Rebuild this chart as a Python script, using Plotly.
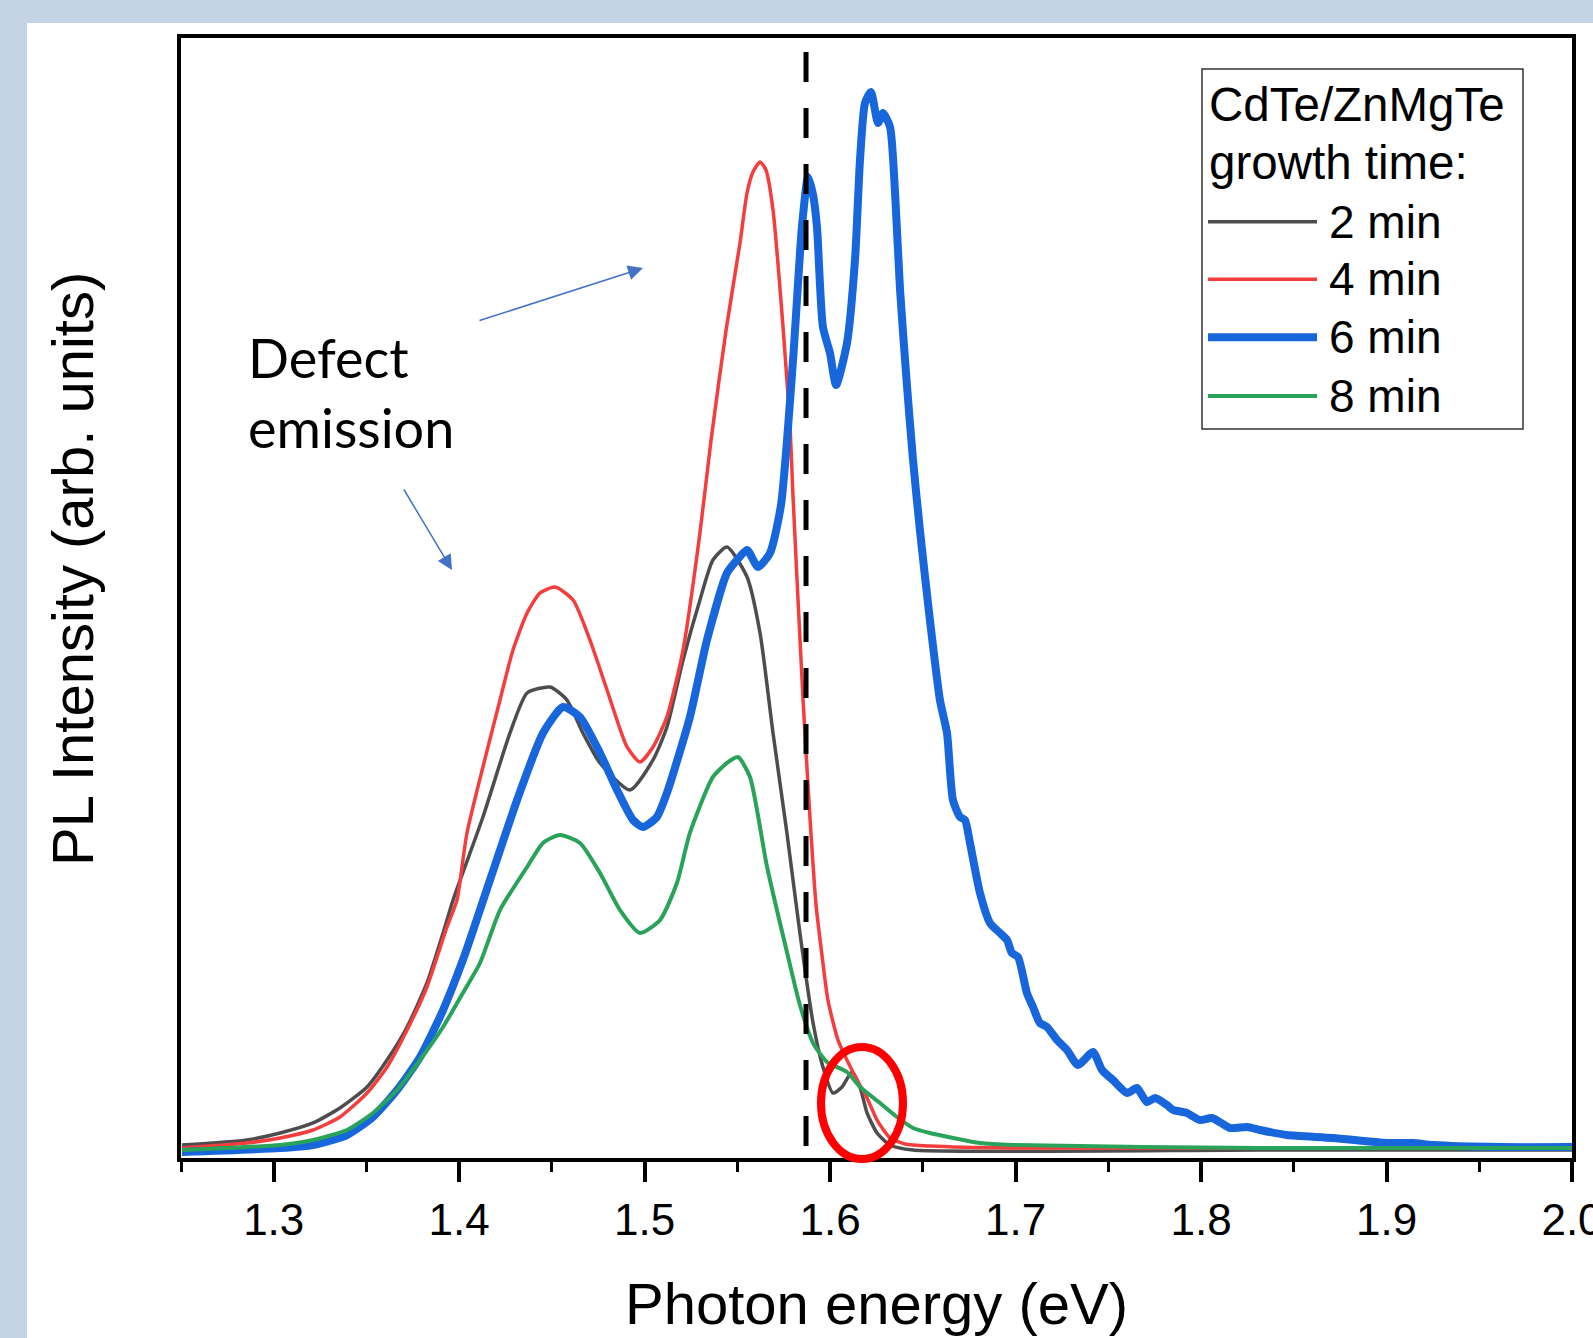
import plotly.graph_objects as go

# ---------------- data ----------------
energy_2min = [1.2505, 1.2856, 1.3034, 1.3212, 1.3357, 1.3503, 1.3611, 1.3719, 1.3826, 1.3913,
               1.3967, 1.4128, 1.4274, 1.4366, 1.4490, 1.4581, 1.4667, 1.4759, 1.4921, 1.5045,
               1.5120, 1.5207, 1.5298, 1.5368, 1.5444, 1.5552, 1.5622, 1.5692, 1.5767, 1.5837,
               1.5908, 1.5961, 1.6015, 1.6064, 1.6118, 1.6161, 1.6199, 1.6253, 1.6323, 1.6447,
               1.8318, 2.0]
intensity_2min = [1.16, 1.61, 2.23, 3.13, 4.46, 6.34, 8.75, 11.70, 15.63, 20.09,
                  23.04, 30.45, 37.95, 41.52, 42.05, 40.89, 37.95, 35.27, 32.86, 35.54,
                  38.48, 44.46, 49.82, 53.39, 54.55, 51.88, 46.88, 37.95, 29.02, 20.09,
                  12.05, 8.13, 5.80, 6.34, 7.68, 6.34, 4.02, 2.23, 1.16, 0.71,
                  0.71, 0.71]

energy_4min = [1.2505, 1.2856, 1.3034, 1.3212, 1.3357, 1.3503, 1.3611, 1.3719, 1.3826, 1.3934,
               1.3988, 1.4042, 1.4220, 1.4290, 1.4366, 1.4436, 1.4517, 1.4614, 1.4705, 1.4797,
               1.4905, 1.4975, 1.5045, 1.5120, 1.5207, 1.5298, 1.5358, 1.5439, 1.5514, 1.5552,
               1.5584, 1.5622, 1.5654, 1.5692, 1.5746, 1.5784, 1.5800, 1.5854, 1.5892, 1.5924,
               1.5956, 1.5988, 1.6042, 1.6096, 1.6145, 1.6199, 1.6253, 1.6323, 1.6404, 1.6538,
               1.6986, 2.0]
intensity_4min = [0.89, 1.34, 1.79, 2.50, 3.66, 5.80, 8.13, 11.43, 15.27, 20.63,
                  23.04, 29.02, 40.89, 45.36, 48.66, 50.45, 50.98, 49.82, 46.25, 41.79,
                  36.70, 35.36, 36.70, 39.38, 45.36, 55.80, 64.11, 73.93, 81.70, 86.16,
                  88.04, 88.93, 88.21, 84.64, 74.20, 65.27, 59.02, 40.89, 30.18, 22.59,
                  18.13, 14.11, 10.54, 8.57, 6.96, 5.36, 3.39, 1.79, 1.25, 1.07,
                  0.89, 0.89]

energy_6min = [1.2505, 1.3034, 1.3212, 1.3395, 1.3535, 1.3665, 1.3789, 1.3913, 1.4020, 1.4112,
               1.4312, 1.4452, 1.4560, 1.4651, 1.4759, 1.4851, 1.4937, 1.4991, 1.5066, 1.5120,
               1.5244, 1.5336, 1.5444, 1.5498, 1.5552, 1.5611, 1.5676, 1.5735, 1.5800, 1.5848,
               1.5881, 1.5908, 1.5929, 1.5961, 1.5999, 1.6032, 1.6091, 1.6134, 1.6161, 1.6188,
               1.6220, 1.6258, 1.6285, 1.6323, 1.6350, 1.6377, 1.6414, 1.6447, 1.6484, 1.6538,
               1.6592, 1.6630, 1.6662, 1.6700, 1.6727, 1.6754, 1.6808, 1.6862, 1.6916, 1.6954,
               1.6980, 1.7013, 1.7061, 1.7094, 1.7131, 1.7169, 1.7223, 1.7277, 1.7336, 1.7417,
               1.7466, 1.7525, 1.7601, 1.7654, 1.7708, 1.7752, 1.7816, 1.7849, 1.7924, 1.7994,
               1.8059, 1.8156, 1.8248, 1.8318, 1.8463, 1.8711, 1.9002, 1.9143, 1.9250, 1.9612,
               2.0]
intensity_6min = [0.54, 0.89, 1.16, 2.05, 3.66, 6.07, 9.02, 13.21, 17.68, 22.14,
                  31.96, 37.95, 40.27, 39.38, 36.16, 32.86, 30.18, 29.55, 30.45, 32.59,
                  39.38, 46.25, 52.23, 53.39, 54.29, 52.77, 54.02, 58.30, 71.25, 83.13,
                  87.59, 85.98, 83.13, 74.20, 71.88, 69.02, 72.77, 80.18, 89.11, 94.20,
                  95.18, 92.41, 93.30, 92.05, 86.16, 77.50, 69.02, 62.32, 56.07, 48.04,
                  40.89, 37.95, 31.96, 30.45, 30.18, 28.13, 23.66, 20.98, 20.09, 19.46,
                  18.30, 17.95, 14.73, 13.48, 12.05, 11.70, 10.54, 9.64, 8.30, 9.46,
                  7.86, 6.96, 5.80, 6.25, 5.00, 5.36, 4.73, 4.29, 4.02, 3.39,
                  3.57, 2.68, 2.77, 2.50, 2.05, 1.79, 1.34, 1.34, 1.16, 0.98,
                  0.98]

energy_8min = [1.2505, 1.3034, 1.3212, 1.3395, 1.3535, 1.3665, 1.3789, 1.3913, 1.4020, 1.4112,
               1.4220, 1.4366, 1.4452, 1.4543, 1.4651, 1.4759, 1.4867, 1.4975, 1.5083, 1.5174,
               1.5244, 1.5368, 1.5444, 1.5503, 1.5568, 1.5660, 1.5767, 1.5837, 1.5908, 1.5983,
               1.6091, 1.6161, 1.6269, 1.6360, 1.6447, 1.6538, 1.6808, 1.6986, 1.8318, 2.0]
intensity_8min = [0.71, 1.16, 1.61, 2.50, 4.02, 6.07, 8.75, 11.70, 14.73, 17.41,
                  22.14, 25.98, 28.13, 28.84, 28.13, 25.45, 22.14, 20.09, 21.25, 24.55,
                  29.02, 34.02, 35.27, 35.80, 34.02, 25.98, 18.39, 13.66, 10.27, 8.57,
                  7.68, 6.34, 4.91, 3.66, 2.68, 2.23, 1.34, 1.16, 0.89, 0.89]

series_names = ["2 min", "4 min", "6 min", "8 min"]
legend_title_lines = ["CdTe/ZnMgTe", "growth time:"]
x_tick_values = [1.3, 1.4, 1.5, 1.6, 1.7, 1.8, 1.9, 2.0]
x_tick_labels = ["1.3", "1.4", "1.5", "1.6", "1.7", "1.8", "1.9", "2.0"]
x_minor_tick_values = [1.25, 1.35, 1.45, 1.55, 1.65, 1.75, 1.85, 1.95]
x_title = "Photon energy (eV)"
y_title = "PL Intensity (arb. units)"
annotation_text = "Defect<br>emission"
dashed_line_energy = 1.587
x_range = [1.25, 2.0]
y_range = [0, 100]

# ---------------- styles ----------------
series_colors = ["#4d4d4d", "#f53d3d", "#1766dc", "#2aa35a"]
series_widths = [3.5, 3.5, 8, 4]
page_blue = "#c5d4e4"
arial = "Liberation Sans, Arial, sans-serif"

W, H = 1593, 1338
L, R, T, B = 181, 1572, 38, 1158


def px(X):
    return (X - L) / (R - L)


def py(Y):
    return (B - Y) / (B - T)


energies = [energy_2min, energy_4min, energy_6min, energy_8min]
intensities = [intensity_2min, intensity_4min, intensity_6min, intensity_8min]

fig = go.Figure()
for name, ex, iy, col, wd in zip(series_names, energies, intensities, series_colors, series_widths):
    fig.add_trace(go.Scatter(x=ex, y=iy, mode="lines", name=name,
                             line=dict(color=col, width=wd, shape="spline", smoothing=0.6),
                             showlegend=False))

shapes = [
    # page frame strips
    dict(type="rect", xref="paper", yref="paper", x0=px(0), x1=px(27), y0=py(H), y1=py(0),
         fillcolor=page_blue, line=dict(width=0), layer="below"),
    dict(type="rect", xref="paper", yref="paper", x0=px(0), x1=px(W), y0=py(23), y1=py(0),
         fillcolor=page_blue, line=dict(width=0), layer="below"),
    # dashed vertical reference line
    dict(type="line", xref="x", yref="paper", x0=dashed_line_energy, x1=dashed_line_energy,
         y0=py(52), y1=0, line=dict(color="black", width=5, dash="30px,26px")),
    # red ellipse
    dict(type="circle", xref="paper", yref="paper", x0=px(821), x1=px(903), y0=py(1159), y1=py(1047),
         line=dict(color="#ff0000", width=8)),
    # legend box
    dict(type="rect", xref="paper", yref="paper", x0=px(1202), x1=px(1523), y0=py(429), y1=py(69),
         line=dict(color="#333333", width=1.5), fillcolor="white"),
]

annotations = []
legend_font = dict(family=arial, size=46, color="black")
legend_title_font = dict(family=arial, size=47.5, color="black")
for i, line in enumerate(legend_title_lines):
    annotations.append(dict(xref="paper", yref="paper", x=px(1207), y=py(104 + 58 * i),
                            xanchor="left", yanchor="middle", text=line, showarrow=False,
                            font=legend_title_font))
item_y = [221.7, 279.3, 337.3, 396]
for name, col, wd, yy in zip(series_names, series_colors, series_widths, item_y):
    shapes.append(dict(type="line", xref="paper", yref="paper", x0=px(1208), x1=px(1317),
                       y0=py(yy), y1=py(yy), line=dict(color=col, width=wd)))
    annotations.append(dict(xref="paper", yref="paper", x=px(1327), y=py(yy),
                            xanchor="left", yanchor="middle", text=name, showarrow=False,
                            font=legend_font))

# "Defect emission" text and arrows
annotations.append(dict(xref="paper", yref="paper", x=px(246), y=py(392), xanchor="left",
                        yanchor="middle", align="left", text=annotation_text, showarrow=False,
                        font=dict(family="Lato, Open Sans, sans-serif", size=54, color="black")))
arrow_style = dict(showarrow=True, arrowhead=2, arrowsize=2, arrowwidth=1.5,
                   arrowcolor="#4472c4", text="", xref="paper", yref="paper",
                   axref="pixel", ayref="pixel", standoff=0)
annotations.append(dict(x=px(643), y=py(268), ax=478 - 643, ay=321 - 268, **arrow_style))
annotations.append(dict(x=px(452), y=py(570), ax=403 - 452, ay=488 - 570, **arrow_style))

# y axis title
annotations.append(dict(xref="paper", yref="paper", x=px(72), y=py(569), xanchor="center",
                        yanchor="middle", textangle=-90, text=y_title, showarrow=False,
                        font=dict(family=arial, size=58, color="black")))

fig.update_layout(
    width=W, height=H,
    margin=dict(l=L, r=W - R, t=T, b=H - B, pad=0, autoexpand=False),
    paper_bgcolor="white", plot_bgcolor="white",
    shapes=shapes, annotations=annotations,
    showlegend=False,
    xaxis=dict(range=x_range, tickmode="array", tickvals=x_tick_values, ticktext=x_tick_labels,
               ticks="outside", ticklen=20, tickwidth=4, tickcolor="black",
               ticklabeloverflow="allow", automargin=False,
               minor=dict(tickmode="array", tickvals=x_minor_tick_values, ticks="outside",
                          ticklen=10, tickwidth=3, tickcolor="black"),
               showline=True, linewidth=4, linecolor="black", mirror=True,
               showgrid=False, zeroline=False,
               tickfont=dict(family=arial, size=44, color="black"),
               title=dict(text=x_title, standoff=42,
                          font=dict(family=arial, size=58, color="black"))),
    yaxis=dict(range=y_range, showticklabels=False, ticks="", showline=True, linewidth=4,
               linecolor="black", mirror=True, showgrid=False, zeroline=False, automargin=False),
)

fig.write_html("out.html", config={"displayModeBar": False},
               post_script="document.body.style.margin='0';")
